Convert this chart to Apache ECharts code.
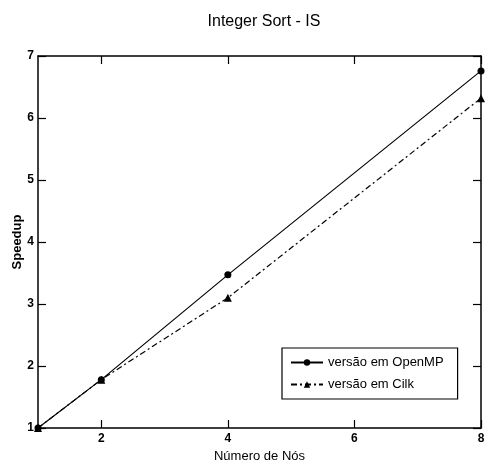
<!DOCTYPE html>
<html>
<head>
<meta charset="utf-8">
<script src="https://cdn.jsdelivr.net/npm/echarts@6/dist/echarts.min.js"></script>
<style>
html,body{margin:0;padding:0;background:#fff;}
#c{width:493px;height:465px;}
</style>
</head>
<body>
<div id="c"></div>
<script>
var nodes = [1, 2, 4, 8];
var openmp = [1, 1.78, 3.47, 6.76];
var cilk = [1, 1.78, 3.10, 6.32];
var xTicks = [2, 4, 6, 8];
var seriesNames = ['versão em OpenMP', 'versão em Cilk'];

var FONT = "'Liberation Sans Narrow', 'Liberation Sans', Arial, sans-serif";
function pairs(xs, ys){ return xs.map(function(x,i){ return [x, ys[i]]; }); }

var chart = echarts.init(document.getElementById('c'), null, {renderer:'canvas'});
var axisLine = {show:true, lineStyle:{color:'#000', width:1.5}};
chart.setOption({
  backgroundColor:'#fff',
  animation:false,
  title:{text:'Integer Sort - IS', left:259, top:9, textAlign:'center',
    textStyle:{fontFamily:FONT, fontSize:16, fontWeight:'normal', color:'#000'}},
  grid:{left:38, right:12, top:56, bottom:37, outerBoundsMode:'none', containLabel:false},
  legend:{
    orient:'vertical', left:282, top:348,
    padding:[8, 14, 8, 8], itemGap:9, itemWidth:32, itemHeight:8,
    borderColor:'#000', borderWidth:1.2, backgroundColor:'#fff',
    textStyle:{fontFamily:FONT, fontSize:13, color:'#000'},
    data:[{name:seriesNames[0]},{name:seriesNames[1]}]
  },
  xAxis:[
    {type:'value', min:1, max:8, position:'bottom',
     name:'Número de Nós', nameLocation:'middle', nameGap:17,
     nameTextStyle:{fontFamily:FONT, fontSize:13, color:'#000'},
     axisLine:axisLine,
     axisTick:{show:true, inside:true, length:8, customValues:xTicks, lineStyle:{color:'#000', width:1.2}},
     axisLabel:{show:true, customValues:xTicks, margin:5, fontFamily:FONT, fontSize:12, fontWeight:'bold', color:'#000'},
     splitLine:{show:false}},
    {type:'value', min:1, max:8, position:'top',
     axisLine:axisLine,
     axisTick:{show:true, inside:true, length:8, customValues:xTicks, lineStyle:{color:'#000', width:1.2}},
     axisLabel:{show:false}, splitLine:{show:false}}
  ],
  yAxis:[
    {type:'value', min:1, max:7, interval:1, position:'left',
     name:'Speedup', nameLocation:'middle', nameGap:14, nameRotate:90, nameMoveOverlap:false,
     nameTextStyle:{fontFamily:FONT, fontSize:13, fontWeight:'bold', color:'#000'},
     axisLine:axisLine,
     axisTick:{show:true, inside:true, length:8, lineStyle:{color:'#000', width:1.2}},
     axisLabel:{margin:4, fontFamily:FONT, fontSize:12, fontWeight:'bold', color:'#000'},
     splitLine:{show:false}},
    {type:'value', min:1, max:7, interval:1, position:'right',
     axisLine:axisLine,
     axisTick:{show:true, inside:true, length:8, lineStyle:{color:'#000', width:1.2}},
     axisLabel:{show:false}, splitLine:{show:false}}
  ],
  series:[
    {name:seriesNames[0], type:'line', data:pairs(nodes, openmp),
     symbol:'circle', symbolSize:7, showAllSymbol:true,
     lineStyle:{color:'#000', width:1.2, type:'solid'},
     itemStyle:{color:'#000'}},
    {name:seriesNames[1], type:'line', data:pairs(nodes, cilk),
     symbol:'triangle', symbolSize:8, showAllSymbol:true,
     lineStyle:{color:'#000', width:1.2, type:[6,3,2,3]},
     itemStyle:{color:'#000'}}
  ]
});
</script>
</body>
</html>
